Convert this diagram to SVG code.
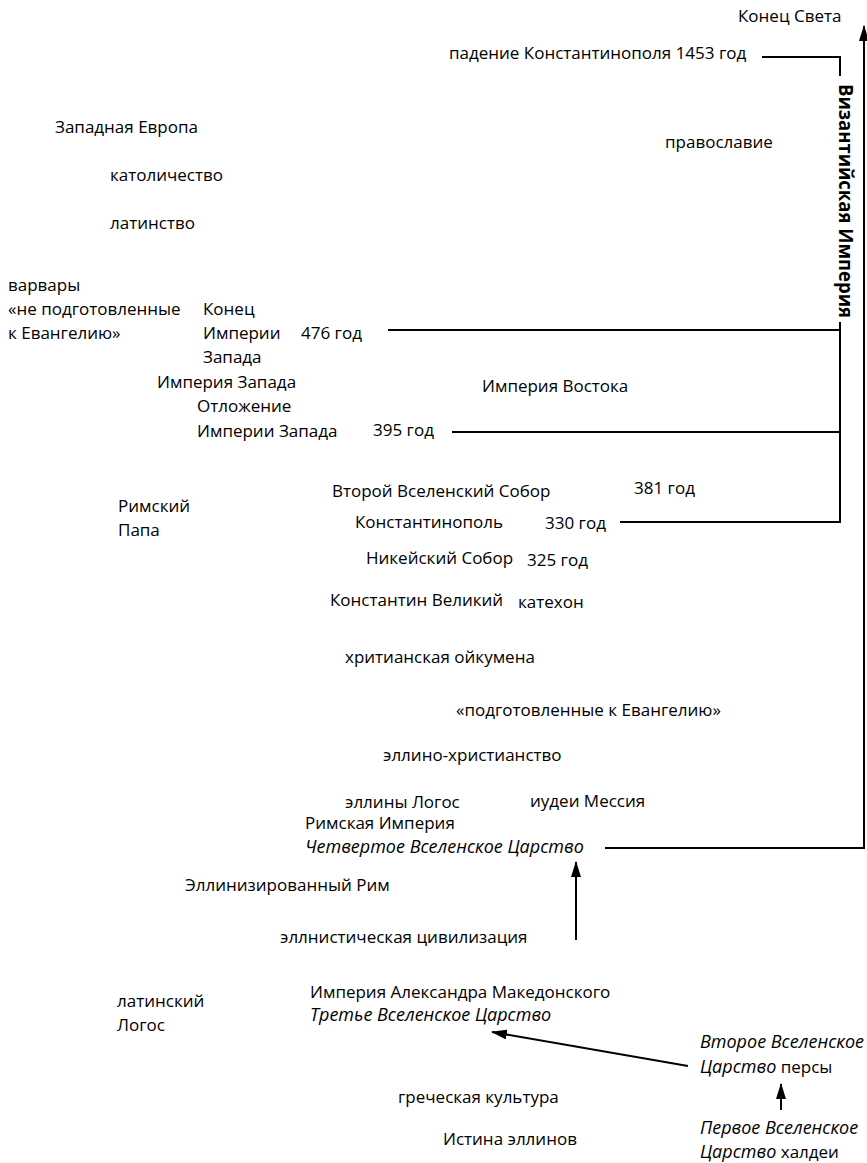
<svg xmlns="http://www.w3.org/2000/svg" width="867" height="1163" viewBox="0 0 867 1163">
  <style>
    text { font-family: "Open Sans", "Liberation Sans", sans-serif; font-size: 17px; font-weight: 500; fill: #000; }
    .it { font-style: italic; font-size: 18px; }
    .vert { font-weight: bold; font-size: 19px; }
    .ln { stroke: #000; stroke-width: 2; fill: none; }
  </style>
  <defs>
    <marker id="ah" viewBox="0 0 16 10" refX="15" refY="5" markerWidth="16" markerHeight="10" markerUnits="userSpaceOnUse" orient="auto">
      <path d="M0,0 L16,5 L0,10 z" fill="#000"/>
    </marker>
  </defs>

  <g id="connectors">
    <!-- main timeline up to the end of the world -->
    <polyline class="ln" points="605,848 864,848 864,26" marker-end="url(#ah)"/>
    <!-- Byzantine bracket -->
    <polyline class="ln" points="762,57 840,57 840,76"/>
    <line class="ln" x1="388" y1="330" x2="840" y2="330"/>
    <polyline class="ln" points="840,322 840,522 620,522"/>
    <line class="ln" x1="452" y1="432" x2="840" y2="432"/>
    <!-- succession of kingdoms -->
    <line class="ln" x1="576" y1="940" x2="576" y2="862" marker-end="url(#ah)"/>
    <line class="ln" x1="688" y1="1066" x2="492" y2="1032" marker-end="url(#ah)"/>
    <line class="ln" x1="781" y1="1110" x2="781" y2="1084" marker-end="url(#ah)"/>
  </g>

  <g id="end-of-world"><text x="738" y="22">Конец Света</text></g>
  <g id="fall-constantinople"><text x="449" y="59">падение Константинополя 1453 год</text></g>
  <g id="byzantium"><text class="vert" transform="translate(839,84) rotate(90)" textLength="234" lengthAdjust="spacingAndGlyphs">Византийская Империя</text></g>

  <g id="west">
    <text x="55" y="133">Западная Европа</text>
    <text x="110" y="181">католичество</text>
    <text x="110" y="229">латинство</text>
  </g>
  <g id="orthodoxy"><text x="665" y="148">православие</text></g>

  <g id="barbarians">
    <text x="8" y="291">варвары</text>
    <text x="8" y="315">«не подготовленные</text>
    <text x="8" y="339">к Евангелию»</text>
  </g>
  <g id="end-west">
    <text x="203" y="315">Конец</text>
    <text x="203" y="339">Империи</text>
    <text x="203" y="363">Запада</text>
    <text x="301" y="339">476 год</text>
  </g>
  <g id="empire-west"><text x="157" y="388">Империя Запада</text></g>
  <g id="empire-east"><text x="482" y="392">Империя Востока</text></g>
  <g id="secession">
    <text x="197" y="412">Отложение</text>
    <text x="197" y="437">Империи Запада</text>
    <text x="373" y="436">395 год</text>
  </g>
  <g id="second-council">
    <text x="332" y="497">Второй Вселенский Собор</text>
    <text x="634" y="494">381 год</text>
  </g>
  <g id="pope">
    <text x="118" y="512">Римский</text>
    <text x="118" y="536">Папа</text>
  </g>
  <g id="constantinople">
    <text x="355" y="528">Константинополь</text>
    <text x="545" y="529">330 год</text>
  </g>
  <g id="nicaea">
    <text x="366" y="564">Никейский Собор</text>
    <text x="527" y="566">325 год</text>
  </g>
  <g id="constantine">
    <text x="330" y="606">Константин Великий</text>
    <text x="518" y="608">катехон</text>
  </g>
  <g id="oikumene"><text x="345" y="663">хритианская ойкумена</text></g>
  <g id="prepared"><text x="456" y="716">«подготовленные к Евангелию»</text></g>
  <g id="hellenochristianity"><text x="383" y="761">эллино-христианство</text></g>
  <g id="hellenes"><text x="345" y="808">эллины Логос</text></g>
  <g id="jews"><text x="530" y="807">иудеи Мессия</text></g>
  <g id="rome">
    <text x="305" y="829">Римская Империя</text>
    <text class="it" x="305" y="853">Четвертое Вселенское Царство</text>
  </g>
  <g id="hellenized-rome"><text x="185" y="891">Эллинизированный Рим</text></g>
  <g id="hellenistic"><text x="280" y="943">эллнистическая цивилизация</text></g>
  <g id="latin-logos">
    <text x="117" y="1007">латинский</text>
    <text x="117" y="1031">Логос</text>
  </g>
  <g id="alexander">
    <text x="310" y="998">Империя Александра Македонского</text>
    <text class="it" x="310" y="1021">Третье Вселенское Царство</text>
  </g>
  <g id="persians">
    <text class="it" x="700" y="1048">Второе Вселенское</text>
    <text x="700" y="1073"><tspan class="it">Царство</tspan> персы</text>
  </g>
  <g id="greek-culture"><text x="398" y="1103">греческая культура</text></g>
  <g id="chaldeans">
    <text class="it" x="700" y="1134">Первое Вселенское</text>
    <text x="700" y="1158"><tspan class="it">Царство</tspan> халдеи</text>
  </g>
  <g id="truth"><text x="443" y="1145">Истина эллинов</text></g>
</svg>
